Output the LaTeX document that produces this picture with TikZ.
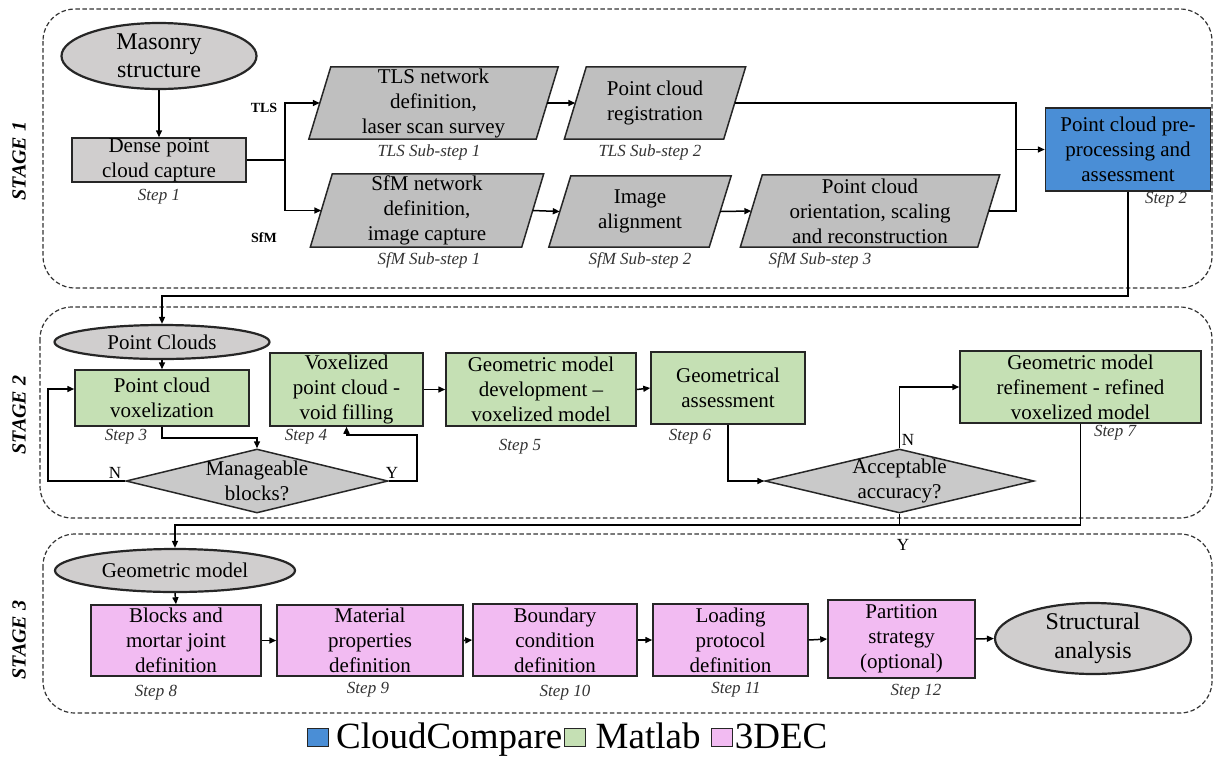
\documentclass[tikz,border=0pt]{standalone}
\usepackage{fontspec}
\setmainfont{Liberation Serif}
\usetikzlibrary{shapes.geometric,arrows.meta,backgrounds,calc}
\definecolor{parafill}{HTML}{BFBFBF}
\definecolor{termfill}{HTML}{D0CECE}
\definecolor{decfill}{HTML}{C9C9C9}
\definecolor{greenf}{HTML}{C5E0B4}
\definecolor{bluef}{HTML}{4A8ED6}
\definecolor{pinkf}{HTML}{F2BBF2}
\newcommand{\paranode}[6]{%
  \node[txt, minimum width=#4pt, minimum height=#5pt, label={[txt]center:{#6}}] (#1) at (#2,#3) {};
  \begin{scope}[on background layer]
    \draw[base, fill=parafill] ([xshift=-11pt]#1.south west) -- ([xshift=-11pt]#1.south east) -- ([xshift=11pt]#1.north east) -- ([xshift=11pt]#1.north west) -- cycle;
  \end{scope}}
\begin{document}
\begin{tikzpicture}[x=1pt,y=-1pt,
  txt/.style={rectangle, draw=none, fill=none, align=center, inner sep=0pt, font=\fontsize{21}{25}\selectfont},
  bigtxt/.style={rectangle, draw=none, fill=none, align=center, inner sep=0pt, font=\fontsize{24}{28.5}\selectfont},
  steptxt/.style={inner sep=0pt, font=\fontsize{17}{20}\selectfont\itshape, text=black!80},
  base/.style={draw=black!85, line width=1.5pt, inner sep=0pt},
  gbox/.style={base, rectangle, fill=greenf},
  pbox/.style={base, rectangle, fill=pinkf},
  term/.style={base, ellipse, fill=termfill, line width=2.2pt},
  dec/.style={base, diamond, fill=decfill},
  arr/.style={line width=1.5pt, -{Triangle[length=7pt,width=6pt]}},
  ln/.style={line width=1.5pt},
  stage/.style={draw=black!80, line width=1.2pt, dash pattern=on 4.5pt off 2.5pt, rounded corners=32pt},
  stagelbl/.style={rotate=90, font=\fontsize{20}{24}\selectfont\bfseries\itshape, inner sep=0pt},
  yn/.style={font=\fontsize{17}{20}\selectfont, inner sep=0pt},
  branch/.style={font=\fontsize{14}{16}\selectfont\bfseries, inner sep=0pt},
  legsq/.style={draw=black!85, line width=1pt, minimum width=21pt, minimum height=18pt, inner sep=0pt},
  legtxt/.style={inner sep=0pt, font=\fontsize{37}{43}\selectfont}
]
\useasboundingbox (0,0) rectangle (1216,756);

% ---------------- STAGE 1 ----------------
\draw[stage] (43,9) rectangle (1212,288);
\node[stagelbl] (s1) at (19,161) {STAGE 1};

\node[term, minimum width=195pt, minimum height=66pt, label={[bigtxt]center:{Masonry\\structure}}] (ms) at (159,56) {};
\node[base, fill=termfill, minimum width=174pt, minimum height=44pt, label={[txt]center:{Dense point\\cloud capture}}] (dense) at (159,160) {};
\node[steptxt] (st1) at (159,197) {Step 1};

\paranode{tls1}{433.5}{103}{227}{72}{TLS network\\definition,\\laser scan survey}
\paranode{tls2}{655}{103}{159}{72}{Point cloud\\registration}
\paranode{sfm1}{427}{210.5}{211}{73}{SfM network\\definition,\\image capture}
\paranode{sfm2}{640}{211.5}{160}{71}{Image\\alignment}
\paranode{sfm3}{870}{211}{237}{72}{Point cloud\\orientation, scaling\\and reconstruction}

\node[steptxt] (sts1) at (429,152) {TLS Sub-step 1};
\node[steptxt] (sts2) at (650,152) {TLS Sub-step 2};
\node[steptxt] (sfs1) at (429,260) {SfM Sub-step 1};
\node[steptxt] (sfs2) at (640,260) {SfM Sub-step 2};
\node[steptxt] (sfs3) at (820,260) {SfM Sub-step 3};

\node[branch] (tlsl) at (264,108) {TLS};
\node[branch] (sfml) at (264,238) {SfM};

\node[base, fill=bluef, minimum width=165pt, minimum height=83pt, label={[txt]center:{Point cloud pre-\\processing and\\assessment}}] (pp) at (1128,149.5) {};
\node[steptxt] (st2) at (1166,200) {Step 2};

\coordinate (br) at (285,160);
\coordinate (jx) at (1016,0);
\draw[arr] (ms.south) -- (dense.north);
\draw[ln] (dense.east) -- (br);
\draw[arr] (br) |- (tls1.west);
\draw[arr] (br) |- (sfm1.west);
\draw[arr] (tls1.east) -- (tls2.west);
\draw[arr] (sfm1.east) -- (sfm2.west);
\draw[arr] (sfm2.east) -- (sfm3.west);
\draw[ln] (tls2.east) -| (sfm3.east -| jx) -- (sfm3.east);
\draw[arr] (pp.west -| jx) -- (pp.west);

% ---------------- STAGE 2 ----------------
\draw[stage] (40,307) rectangle (1212,518);
\node[stagelbl] (s2) at (19,415) {STAGE 2};

\node[term, minimum width=215pt, minimum height=34pt, label={[txt]center:{Point Clouds}}] (pc) at (162,342) {};
\node[gbox, minimum width=174pt, minimum height=56pt, label={[txt]center:{Point cloud\\voxelization}}] (vox) at (162,398) {};
\node[gbox, minimum width=153pt, minimum height=73pt, label={[txt]center:{Voxelized\\point cloud -\\void filling}}] (v4) at (346.5,389.5) {};
\node[gbox, minimum width=190pt, minimum height=73pt, label={[txt]center:{Geometric model\\development --\\voxelized model}}] (g5) at (541,389.5) {};
\node[gbox, minimum width=154pt, minimum height=72pt, label={[txt]center:{Geometrical\\assessment}}] (g6) at (728,388) {};
\node[gbox, minimum width=241pt, minimum height=72pt, label={[txt]center:{Geometric model\\refinement - refined\\voxelized model}}] (g7) at (1080.5,387) {};
\node[dec, minimum width=262pt, minimum height=64pt, label={[txt]center:{Manageable\\blocks?}}] (mb) at (257,481) {};
\node[dec, minimum width=269pt, minimum height=64pt, label={[txt]center:{Acceptable\\accuracy?}}] (acc) at (899.5,481) {};

\node[steptxt] (st3) at (126,437) {Step 3};
\node[steptxt] (st4) at (306,437) {Step 4};
\node[steptxt] (st5) at (520,447) {Step 5};
\node[steptxt] (st6) at (690,437) {Step 6};
\node[steptxt] (st7) at (1115,433) {Step 7};

\node[yn] (n1) at (115,473) {N};
\node[yn] (y1) at (392,473) {Y};
\node[yn] (n2) at (908,440) {N};
\node[yn] (y2) at (903,545) {Y};

\coordinate (r1) at (0,296);
\coordinate (nl) at (48,0);
\coordinate (yl) at (417,435);
\draw[arr] (pp.south) |- (pc.north |- r1) -- (pc.north);
\draw[arr] (pc.south) -- (vox.north);
\draw[arr] (vox.south) -- ++(0,11) -| (mb.north);
\draw[arr] (mb.west) -| ([yshift=9pt]vox.west -| nl) -- ([yshift=9pt]vox.west);
\draw[arr] (mb.east) -| (yl) -| (v4.south);
\draw[arr] (v4.east) -- (g5.west);
\draw[arr] (g5.east) -- (g6.west);
\draw[arr] (g6.south) |- (acc.west);
\draw[arr] (acc.north) |- (g7.west);

% ---------------- STAGE 3 ----------------
\draw[stage] (43,534) rectangle (1212,713);
\node[stagelbl] (s3) at (19,640) {STAGE 3};

\node[term, minimum width=240pt, minimum height=43pt, label={[txt]center:{Geometric model}}] (gm) at (175,570.5) {};
\node[pbox, minimum width=170pt, minimum height=71pt, label={[txt]center:{Blocks and\\mortar joint\\definition}}] (b8) at (176,640.5) {};
\node[pbox, minimum width=186pt, minimum height=71pt, label={[txt]center:{Material\\properties\\definition}}] (b9) at (370,640.5) {};
\node[pbox, minimum width=164pt, minimum height=72pt, label={[txt]center:{Boundary\\condition\\definition}}] (b10) at (555,640) {};
\node[pbox, minimum width=155pt, minimum height=72pt, label={[txt]center:{Loading\\protocol\\definition}}] (b11) at (730.5,640) {};
\node[pbox, minimum width=147pt, minimum height=78pt, label={[txt]center:{Partition\\strategy\\(optional)}}] (b12) at (901.5,639) {};
\node[term, minimum width=196pt, minimum height=71pt, label={[bigtxt]center:{Structural\\analysis}}] (sa) at (1093,638.5) {};

\node[steptxt] (st8) at (156,693) {Step 8};
\node[steptxt] (st9) at (368,690) {Step 9};
\node[steptxt] (st10) at (565,693) {Step 10};
\node[steptxt] (st11) at (736,690) {Step 11};
\node[steptxt] (st12) at (916,692) {Step 12};

\coordinate (r2) at (0,525);
\draw[arr] (g7.south) |- (gm.north |- r2) -- (gm.north);
\draw[ln] (acc.south) -- (acc.south |- r2);
\draw[arr] (gm.south) -- (b8.north);
\draw[arr] (b8.east) -- (b9.west);
\draw[arr] (b9.east) -- (b10.west);
\draw[arr] (b10.east) -- (b11.west);
\draw[arr] (b11.east) -- (b12.west);
\draw[arr] (b12.east) -- (sa.west);

% ---------------- LEGEND ----------------
\node[legsq, fill=bluef, anchor=south west] (k1) at (307,747) {};
\node[legtxt, anchor=base west] (k1t) at ([xshift=7pt,yshift=-1pt]k1.south east) {CloudCompare};
\node[legsq, fill=greenf, anchor=south west] (k2) at ([xshift=2pt,yshift=1pt]k1t.base east) {};
\node[legtxt, anchor=base west] (k2t) at ([xshift=9pt,yshift=-1pt]k2.south east) {Matlab};
\node[legsq, fill=pinkf, anchor=south west] (k3) at ([xshift=10pt,yshift=1pt]k2t.base east) {};
\node[legtxt, anchor=base west] (k3t) at ([xshift=2pt,yshift=-1pt]k3.south east) {3DEC};
\end{tikzpicture}
\end{document}
